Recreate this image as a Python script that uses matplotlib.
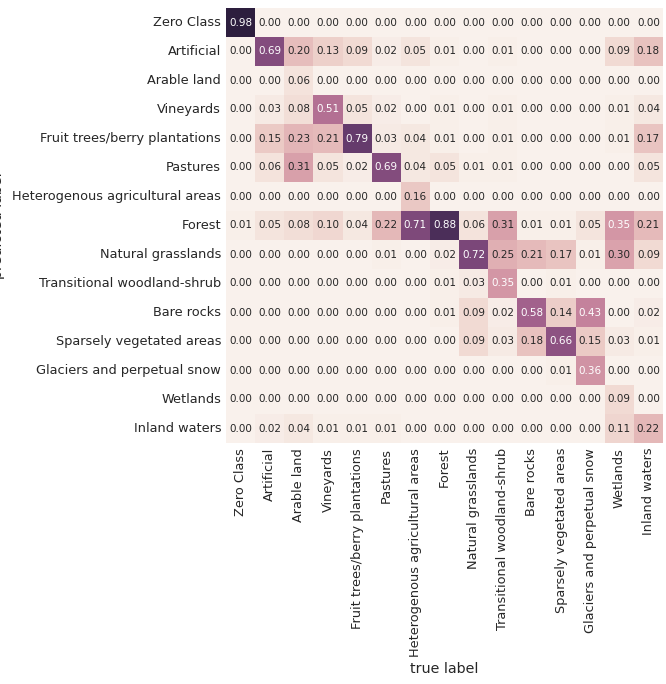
import matplotlib
matplotlib.use("Agg")
import matplotlib.pyplot as plt
import seaborn as sns
import numpy as np

classes = ["Zero Class", "Artificial", "Arable land", "Vineyards",
           "Fruit trees/berry plantations", "Pastures",
           "Heterogenous agricultural areas", "Forest", "Natural grasslands",
           "Transitional woodland-shrub", "Bare rocks",
           "Sparsely vegetated areas", "Glaciers and perpetual snow",
           "Wetlands", "Inland waters"]

row_zero = [0.98, 0, 0, 0, 0, 0, 0, 0, 0, 0, 0, 0, 0, 0, 0]
row_artificial = [0.00, 0.69, 0.20, 0.13, 0.09, 0.02, 0.05, 0.01, 0.00, 0.01, 0.00, 0.00, 0.00, 0.09, 0.18]
row_arable = [0, 0, 0.06, 0, 0, 0, 0, 0, 0, 0, 0, 0, 0, 0, 0]
row_vineyards = [0.00, 0.03, 0.08, 0.51, 0.05, 0.02, 0.00, 0.01, 0.00, 0.01, 0.00, 0.00, 0.00, 0.01, 0.04]
row_fruit = [0.00, 0.15, 0.23, 0.21, 0.79, 0.03, 0.04, 0.01, 0.00, 0.01, 0.00, 0.00, 0.00, 0.01, 0.17]
row_pastures = [0.00, 0.06, 0.31, 0.05, 0.02, 0.69, 0.04, 0.05, 0.01, 0.01, 0.00, 0.00, 0.00, 0.00, 0.05]
row_hetero = [0, 0, 0, 0, 0, 0, 0.16, 0, 0, 0, 0, 0, 0, 0, 0]
row_forest = [0.01, 0.05, 0.08, 0.10, 0.04, 0.22, 0.71, 0.88, 0.06, 0.31, 0.01, 0.01, 0.05, 0.35, 0.21]
row_grass = [0.00, 0.00, 0.00, 0.00, 0.00, 0.01, 0.00, 0.02, 0.72, 0.25, 0.21, 0.17, 0.01, 0.30, 0.09]
row_trans = [0, 0, 0, 0, 0, 0, 0, 0.01, 0.03, 0.35, 0.00, 0.01, 0.00, 0.00, 0.00]
row_rocks = [0, 0, 0, 0, 0, 0, 0, 0.01, 0.09, 0.02, 0.58, 0.14, 0.43, 0.00, 0.02]
row_sparse = [0, 0, 0, 0, 0, 0, 0, 0.00, 0.09, 0.03, 0.18, 0.66, 0.15, 0.03, 0.01]
row_glaciers = [0, 0, 0, 0, 0, 0, 0, 0, 0, 0, 0, 0.01, 0.36, 0.00, 0.00]
row_wetlands = [0, 0, 0, 0, 0, 0, 0, 0, 0, 0, 0, 0, 0, 0.09, 0.00]
row_inland = [0.00, 0.02, 0.04, 0.01, 0.01, 0.01, 0.00, 0.00, 0.00, 0.00, 0.00, 0.00, 0.00, 0.11, 0.22]

cm = np.array([row_zero, row_artificial, row_arable, row_vineyards, row_fruit,
               row_pastures, row_hetero, row_forest, row_grass, row_trans,
               row_rocks, row_sparse, row_glaciers, row_wetlands, row_inland])

fig = plt.figure(figsize=(6.66, 6.84), dpi=100)
ax = fig.add_axes([226 / 666, 1 - 443 / 684, 437 / 666, 435 / 684])
cmap = sns.cubehelix_palette(light=.95, as_cmap=True)
sns.heatmap(cm, ax=ax, annot=True, fmt=".2f", cbar=False, cmap=cmap,
            xticklabels=classes, yticklabels=classes,
            annot_kws={"fontsize": 7.5})
ax.tick_params(axis="both", length=0, labelsize=9.3, colors="#262626")
plt.setp(ax.get_xticklabels(), rotation=90)
plt.setp(ax.get_yticklabels(), rotation=0)
ax.set_xlabel("true label", fontsize=10.3, color="#262626")
ax.set_ylabel("predicted label", fontsize=10.3, color="#262626")
# the reference crops the y label at the left edge
ax.yaxis.set_label_coords(-0.506, 0.5)

plt.savefig("out.png", dpi=100)
